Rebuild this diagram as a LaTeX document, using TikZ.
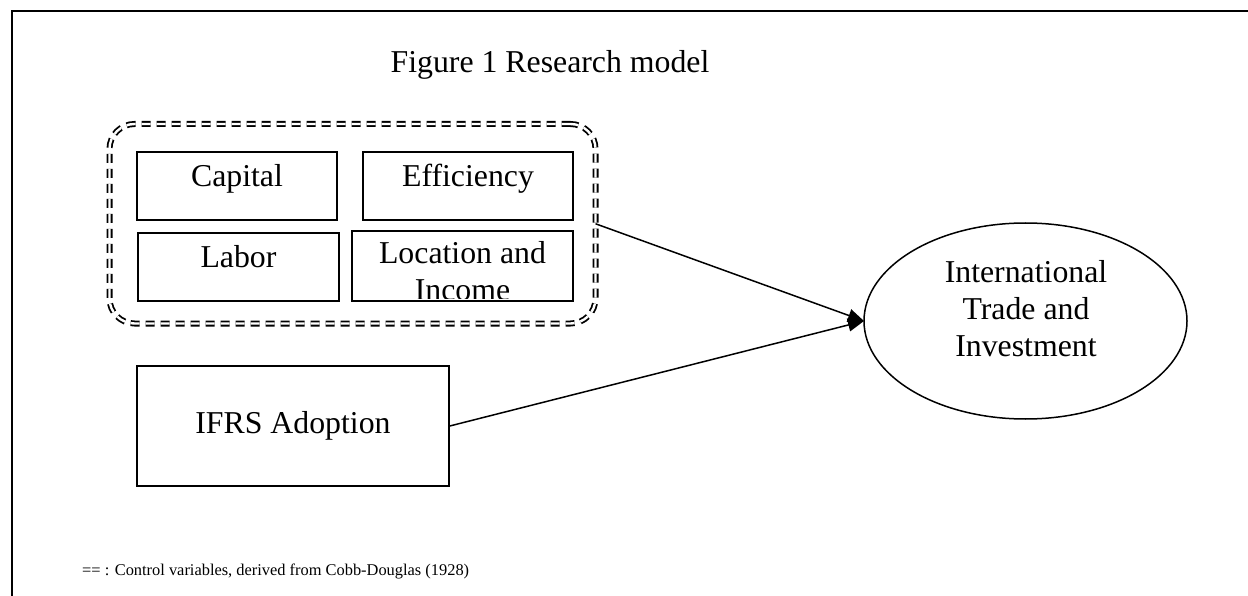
\documentclass[tikz,border=0pt]{standalone}
\usepackage{fontspec}
\setmainfont{Liberation Serif}
\usetikzlibrary{arrows.meta,shapes.geometric}
\begin{document}
\begin{tikzpicture}[x=1pt,y=-1pt,
  every node/.style={inner sep=0pt},
  bigfont/.style={font=\fontsize{31.8}{37}\selectfont},
  box/.style={draw, line width=1.5pt, bigfont, text height=21pt, text depth=20pt},
  ctrlbox/.style={draw, line width=1.8pt, double, double distance=2.4pt,
    dash pattern=on 9pt off 6pt, rounded corners=25pt, outer sep=0pt},
  outcome/.style={draw, ellipse, line width=1.5pt, outer sep=0pt, align=center, bigfont},
  arr/.style={line width=1.5pt, -{Triangle[length=16pt,width=13pt]}},
  frame/.style={line width=2pt}]
\useasboundingbox (0,0) rectangle (1248,596);

% frame
\draw[frame] (12,600) -- (12,11) -- (1252,11);

% title
\node[bigfont, anchor=base] (title) at (550,73) {Figure 1 Research model};

% control variables group
\node[ctrlbox, minimum width=486pt, minimum height=199.5pt] (ctrl) at (352.5,223.75) {};

\node[box, minimum width=200pt, minimum height=68pt] (cap) at (237,186) {Capital};
\node[box, minimum width=210pt, minimum height=68pt] (eff) at (468,186) {Efficiency};
\node[box, minimum width=201pt, minimum height=68pt] (lab) at (238.5,267) {Labor};
\begin{scope}
  \clip (352,231) rectangle (573,298.5);
  \node[bigfont, align=center] (loctext) at (462.5,270.7) {Location and\\Income};
\end{scope}
\node[draw, line width=1.5pt, minimum width=221pt, minimum height=70pt] (loc) at (462.5,266) {};

% IFRS
\node[draw, line width=1.5pt, bigfont, minimum width=312pt, minimum height=120pt] (ifrs) at (293,426) {IFRS Adoption};

% outcome
\node[outcome, minimum width=323pt, minimum height=196pt] (ittr) at (1025.5,321) {};
\node[bigfont, align=center] (ittrtext) at (1026,309) {International\\Trade and\\Investment};

% arrows
\draw[arr] (ctrl.east) -- (ittr.west);
\draw[arr] (ifrs.east) -- (ittr.west);

% legend
\node[font=\fontsize{16.4}{20}\selectfont, anchor=base west] (legend) at (82,575) {== : Control variables, derived from Cobb-Douglas (1928)};
\end{tikzpicture}
\end{document}
